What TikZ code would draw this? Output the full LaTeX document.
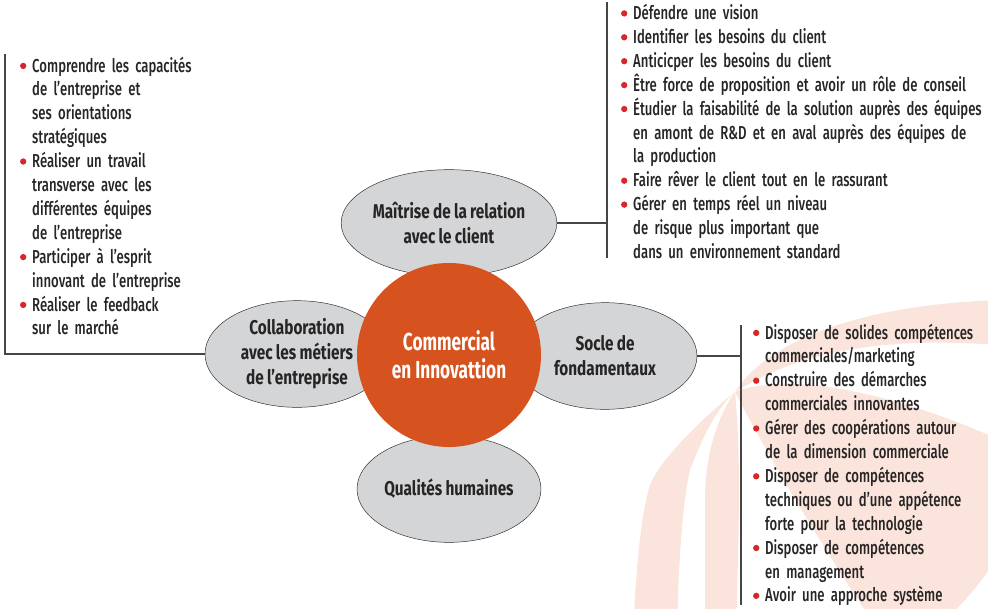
\documentclass[tikz,border=0pt]{standalone}
\usepackage{fontspec}
\setmainfont{Fira Sans}[UprightFont=* Medium, FakeStretch=0.7, WordSpace=0.5]
\newfontfamily\petalfont{Fira Sans}[FakeStretch=0.77, WordSpace=0.9]
\newfontfamily\corefont{Fira Sans}[FakeStretch=0.7]
\usetikzlibrary{shapes.geometric, positioning}

\definecolor{coreorange}{RGB}{214,82,30}
\definecolor{petalgray}{RGB}{212,213,215}
\definecolor{petalrim}{RGB}{55,55,57}
\definecolor{dotred}{RGB}{214,39,45}
\definecolor{inkgray}{RGB}{38,36,36}
\definecolor{barline}{RGB}{70,70,70}
\definecolor{swirlpink}{RGB}{250,228,219}

\pgfdeclareradialshading{petalshade}{\pgfpointorigin}{%
  color(0bp)=(petalgray); color(29bp)=(petalgray); color(40bp)=(petalrim!45!petalgray);
  color(46bp)=(petalrim); color(50bp)=(petalrim!75!black); color(100bp)=(petalrim!75!black)}

\newcommand\itm{\leavevmode\llap{\tikz[baseline=-5.2pt]\fill[dotred] (0,0) circle (2.7pt);\hspace{5pt}}}

\begin{document}
\begin{tikzpicture}[
    x=0.03cm, y=-0.03cm,
    petal/.style={ellipse, shading=petalshade, draw=petalrim!80!black, line width=0.4pt,
        minimum width=5.52cm, minimum height=3.2cm, inner sep=0pt, align=center,
        text=inkgray, font=\petalfont\bfseries\fontsize{17pt}{21.3pt}\selectfont},
    core/.style={circle, fill=coreorange, minimum size=5.52cm, inner sep=0pt, align=center,
        text=white, font=\corefont\bfseries\fontsize{21pt}{24pt}\selectfont},
    itemlist/.style={inner sep=0pt, align=left, text=inkgray,
        font=\fontsize{16pt}{20.4pt}\selectfont},
    bar/.style={draw=barline, line width=1pt}
]
    \useasboundingbox (0,0) rectangle (988,608);

    % Background swirl
    \begin{scope}
        \clip (0,0) rectangle (988,608);
        \clip (735,392) circle (310);
        \fill[swirlpink] (735,392) .. controls (765,345) and (850,305) .. (1000,300)
            -- (1000,345) .. controls (900,338) and (810,345) .. (735,392) -- cycle;
        \fill[swirlpink] (735,392) .. controls (790,370) and (900,395) .. (1000,440)
            -- (1000,640) -- (885,640) .. controls (830,560) and (770,460) .. (735,392) -- cycle;
        \fill[swirlpink] (735,392) .. controls (715,420) and (705,460) .. (705,500)
            -- (705,640) -- (736,640) .. controls (738,540) and (742,470) .. (735,392) -- cycle;
        \fill[swirlpink] (735,392) .. controls (700,420) and (660,460) .. (650,485)
            .. controls (642,510) and (636,560) .. (633,640) -- (677,640)
            .. controls (678,560) and (683,500) .. (690,470)
            .. controls (705,430) and (720,405) .. (735,392) -- cycle;
    \end{scope}

    % Petals
    \node[petal] (client) at (449,223) {Maîtrise de la relation\\avec le client};
    \node[petal] (collab) at (297,354) {Collaboration\\avec les métiers\\de l’entreprise};
    \node[petal] (socle) at (605,356) {Socle de\\fondamentaux};
    \node[petal] (human) at (449,489) {Qualités humaines};

    % Centre
    \node[core] (core) at (449,355) {Commercial\\en Innovattion};

    % Lists
    \node[itemlist, text width=5.7cm, anchor=base west] (collablist) at (32,72) {%
        \itm Comprendre les capacités\\
        de l’entreprise et\\
        ses orientations\\
        stratégiques\\
        \itm Réaliser un travail\\
        transverse avec les\\
        différentes équipes\\
        de l’entreprise\\
        \itm Participer à l’esprit\\
        innovant de l’entreprise\\
        \itm Réaliser le feedback\\
        sur le marché};
    \node[itemlist, text width=12cm, anchor=base west] (clientlist) at (633,19.5) {%
        \itm Défendre une vision\\
        \itm Identifier les besoins du client\\
        \itm Anticicper les besoins du client\\
        \itm Être force de proposition et avoir un rôle de conseil\\
        \itm Étudier la faisabilité de la solution auprès des équipes\\
        en amont de R\&D et en aval auprès des équipes de\\
        la production\\
        \itm Faire rêver le client tout en le rassurant\\
        \itm Gérer en temps réel un niveau\\
        de risque plus important que\\
        dans un environnement standard};
    \node[itemlist, text width=7cm, anchor=base west] (soclelist) at (765,339) {%
        \itm Disposer de solides compétences\\
        commerciales/marketing\\
        \itm Construire des démarches\\
        commerciales innovantes\\
        \itm Gérer des coopérations autour\\
        de la dimension commerciale\\
        \itm Disposer de compétences\\
        techniques ou d’une appétence\\
        forte pour la technologie\\
        \itm Disposer de compétences\\
        en management\\
        \itm Avoir une approche système};

    % Brackets
    \coordinate (collabtop) at (5,54);
    \coordinate (clienttop) at (607,2);
    \coordinate (clientbot) at (607,258);
    \coordinate (decltop) at (741,325);
    \coordinate (declbot) at (741,605);

    \draw[bar] (collab.west) -| (collabtop);
    \draw[bar] (clienttop) -- (clientbot);
    \draw[bar] (client.east) -- (client.east -| clienttop);
    \draw[bar] (decltop) -- (declbot);
    \draw[bar] (socle.east) -- (socle.east -| decltop);

\end{tikzpicture}
\end{document}
